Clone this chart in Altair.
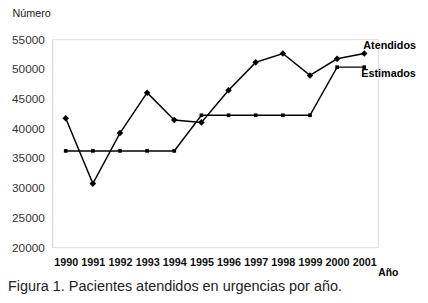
import altair as alt
import pandas as pd

years = ["1990", "1991", "1992", "1993", "1994", "1995", "1996", "1997", "1998", "1999", "2000", "2001"]
atendidos = [41700, 30700, 39200, 46000, 41400, 41000, 46400, 51100, 52600, 48900, 51700, 52600]
estimados = [36200, 36200, 36200, 36200, 36200, 42200, 42200, 42200, 42200, 42200, 50300, 50300]
y_ticks = [20000, 25000, 30000, 35000, 40000, 45000, 50000, 55000]

df = pd.DataFrame(
    [{"year": y, "value": v, "serie": "Atendidos"} for y, v in zip(years, atendidos)]
    + [{"year": y, "value": v, "serie": "Estimados"} for y, v in zip(years, estimados)]
)

FONT = "Liberation Sans"

x = alt.X(
    "year:O",
    scale=alt.Scale(domain=years, paddingOuter=0.5, paddingInner=0),
    axis=alt.Axis(
        title="Año", titleFont=FONT, titleFontSize=10.5, titleFontWeight="bold",
        titleAngle=0, titleAlign="left", titleBaseline="middle",
        titleX=332, titleY=26,
        labelAngle=0, labelFont=FONT, labelFontSize=11, labelFontWeight="bold",
        labelColor="#111", labelPadding=10,
        domain=False, ticks=False, grid=False,
    ),
)
y = alt.Y(
    "value:Q",
    scale=alt.Scale(domain=[20000, 55000], nice=False, zero=False),
    axis=alt.Axis(
        values=y_ticks, format="d",
        title="Número", titleFont=FONT, titleFontSize=11, titleFontWeight="normal",
        titleAngle=0, titleAlign="left", titleBaseline="middle",
        titleX=-41, titleY=-26, titleColor="#222",
        labelFont=FONT, labelFontSize=12, labelColor="#333", labelPadding=8,
        domainColor="#d8d8d8", domainWidth=1, ticks=False, grid=False,
    ),
)

base = alt.Chart(df)

lines = base.mark_line(color="black", strokeWidth=1.5).encode(x=x, y=y, detail="serie:N")

pts_a = base.transform_filter(alt.datum.serie == "Atendidos").mark_point(
    shape="diamond", filled=True, color="black", size=45, opacity=1
).encode(x=x, y=y)

pts_e = base.transform_filter(alt.datum.serie == "Estimados").mark_point(
    shape="square", filled=True, color="black", size=14, opacity=1
).encode(x=x, y=y)

last = df[df["year"] == years[-1]]
lab_a = alt.Chart(last[last["serie"] == "Atendidos"]).mark_text(
    align="left", baseline="middle", dx=-1, dy=-8, font=FONT, fontSize=11,
    fontWeight="bold", color="black"
).encode(x=x, y=y, text="serie:N")
lab_e = alt.Chart(last[last["serie"] == "Estimados"]).mark_text(
    align="left", baseline="middle", dx=-3, dy=7, font=FONT, fontSize=11,
    fontWeight="bold", color="black"
).encode(x=x, y=y, text="serie:N")

chart = alt.layer(lines, pts_a, pts_e, lab_a, lab_e).properties(
    width=332, height=212,
    autosize=alt.AutoSizeParams(type="none"),
    padding={"left": 45, "top": 29, "right": 43, "bottom": 48},
    title=alt.TitleParams(
        "Figura 1. Pacientes atendidos en urgencias por año.",
        orient="bottom", anchor="start", frame="group", dx=-45, offset=1,
        font=FONT, fontSize=14.7, fontWeight="normal", color="#222",
    ),
).configure_view(stroke=None).configure(background="white")

chart.save("out.html", embed_options={"renderer": "svg", "actions": False})
